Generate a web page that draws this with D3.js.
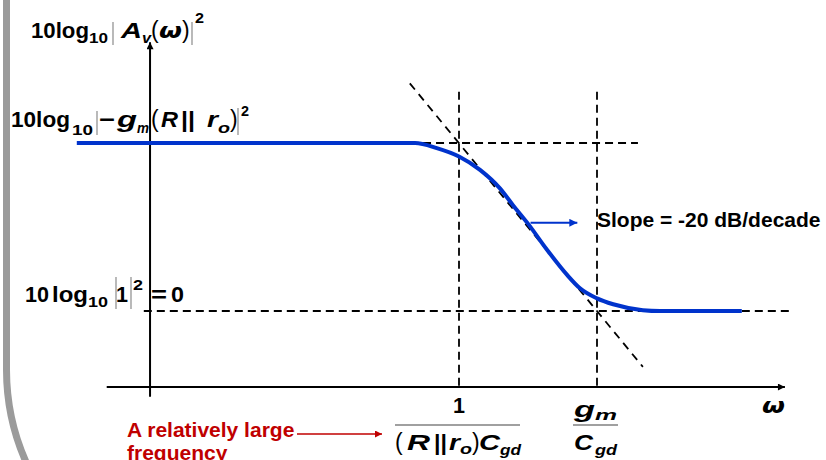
<!DOCTYPE html>
<html>
<head>
<meta charset="utf-8">
<script src="https://cdn.jsdelivr.net/npm/d3@7"></script>
<style>
  html, body { margin: 0; padding: 0; background: #fff; }
  svg { display: block; font-family: "Liberation Sans", Arial, sans-serif; }
</style>
</head>
<body>
<div id="chart"></div>
<script>
// gain response: omega normalised to the pole 1/((R||ro)Cgd), gain in dB
const curveOmega = [0.0017, 0.48, 0.69, 1, 1.42, 1.98, 2.46, 3.16, 4.34, 6.07, 7.53, 10, 13.1, 21.5, 28.6, 112];
const curveDb    = [20, 20, 19.4, 18.4, 16.8, 14.6, 12.6, 10.4, 7.3, 4.3, 2.7, 1.5, 0.8, 0.1, 0, 0];

// -20 dB/decade asymptote (dashed diagonal)
const asymOmega = [0.44, 21.5];
const asymDb    = [27.1, -6.65];

// break frequencies (pole, zero) and the two gain levels
const breakOmega = [1, 10];
const levelDb    = [20, 0];

// axis extents
const axisOmega = [0.0028, 230];   // x axis from .. to (arrow)
const axisDb    = [-10.2, 32];     // y axis from .. to (arrow)
const yAxisAt   = 0.00577;         // omega where the y axis stands
const xAxisAt   = -9.05;           // dB where the x axis lies

// dashed guide extents
const guideTopDb = 26.1;
const levelFrom  = [yAxisAt, 0.0052];
const levelTo    = [19.8, 263];

// slope annotation
const slopeArrow = { omega: [3.3, 7.2], db: 10.5 };
const slopeText  = "Slope = -20 dB/decade";
const noteLines  = ["A relatively large", "frequency"];

const W = 826, H = 460;
const blue = "#0033cc", red = "#c00000";

const svg = d3.select("#chart").append("svg")
    .attr("width", W)
    .attr("height", H);

svg.append("rect").attr("width", W).attr("height", H).attr("fill", "#fff");

// scales: one decade of omega = 138px, 20 dB = 168px
const x = d3.scaleLog().domain([1, 10]).range([459, 597]);
const y = d3.scaleLinear().domain([0, 20]).range([311, 143]);

// arrow markers
const defs = svg.append("defs");
function marker(id, color, w, h) {
    defs.append("marker")
        .attr("id", id)
        .attr("viewBox", "0 -5 10 10")
        .attr("refX", 10).attr("refY", 0)
        .attr("markerUnits", "userSpaceOnUse")
        .attr("markerWidth", w).attr("markerHeight", h)
        .attr("orient", "auto")
        .append("path")
        .attr("d", "M0,-5L10,0L0,5Z")
        .attr("fill", color);
}
marker("arrBlack", "#000", 9, 7);
marker("arrBlue", blue, 10, 8);
marker("arrRed", red, 9, 7);

// slide frame (grey rounded edge on the left)
svg.append("path")
    .attr("d", "M6.5,-5 V370 A228,228 0 0 0 35,480")
    .attr("fill", "none")
    .attr("stroke", "#9b9b9b")
    .attr("stroke-width", 7);

// dashed guides
svg.selectAll(".vguide")
    .data(breakOmega)
    .enter().append("line")
    .attr("class", "vguide")
    .attr("x1", d => x(d)).attr("x2", d => x(d))
    .attr("y1", y(guideTopDb)).attr("y2", y(xAxisAt))
    .attr("stroke", "#000")
    .attr("stroke-width", 1.8)
    .attr("stroke-dasharray", "8,5");

svg.selectAll(".hguide")
    .data(levelDb)
    .enter().append("line")
    .attr("class", "hguide")
    .attr("x1", (d, i) => x(levelFrom[i])).attr("x2", (d, i) => x(levelTo[i]))
    .attr("y1", d => y(d)).attr("y2", d => y(d))
    .attr("stroke", "#000")
    .attr("stroke-width", 1.8)
    .attr("stroke-dasharray", "8,5");

svg.append("line")
    .attr("x1", x(asymOmega[0])).attr("y1", y(asymDb[0]))
    .attr("x2", x(asymOmega[1])).attr("y2", y(asymDb[1]))
    .attr("stroke", "#000")
    .attr("stroke-width", 1.8)
    .attr("stroke-dasharray", "8,6");

// axes
svg.append("line")
    .attr("x1", x(axisOmega[0])).attr("x2", x(axisOmega[1]))
    .attr("y1", y(xAxisAt)).attr("y2", y(xAxisAt))
    .attr("stroke", "#000").attr("stroke-width", 2)
    .attr("marker-end", "url(#arrBlack)");

svg.append("line")
    .attr("x1", x(yAxisAt)).attr("x2", x(yAxisAt))
    .attr("y1", y(axisDb[0])).attr("y2", y(axisDb[1]))
    .attr("stroke", "#000").attr("stroke-width", 2)
    .attr("marker-end", "url(#arrBlack)");

// response curve
const curve = curveOmega.map((w, i) => [w, curveDb[i]]);
svg.append("path")
    .datum(curve)
    .attr("d", d3.line().x(d => x(d[0])).y(d => y(d[1])).curve(d3.curveMonotoneX))
    .attr("fill", "none")
    .attr("stroke", blue)
    .attr("stroke-width", 4);

// slope annotation
svg.append("line")
    .attr("x1", x(slopeArrow.omega[0])).attr("x2", x(slopeArrow.omega[1]))
    .attr("y1", y(slopeArrow.db)).attr("y2", y(slopeArrow.db))
    .attr("stroke", blue).attr("stroke-width", 2)
    .attr("marker-end", "url(#arrBlue)");

svg.append("text")
    .attr("x", x(10)).attr("y", y(10.05))
    .attr("font-size", 21).attr("font-weight", "bold")
    .text(slopeText);

// equation pieces: [text, x, baseline, size, kind, width]
// kind: b = bold, i = bold italic, n = normal, w = omega
const serifOmega = "'DejaVu Sans', sans-serif";
function eq(pieces) {
    pieces.forEach(p => {
        const [t, px, py, size, kind, w] = p;
        const el = svg.append("text")
            .attr("x", px).attr("y", py)
            .attr("font-size", size)
            .attr("font-weight", kind === "n" ? "normal" : "bold")
            .attr("font-style", kind === "i" || kind === "w" ? "italic" : "normal")
            .attr("fill", "#000")
            .text(t);
        if (kind === "w") el.attr("font-family", serifOmega);
        if (w) el.attr("textLength", w).attr("lengthAdjust", "spacingAndGlyphs");
    });
}
function bar(px, y1, y2) {
    svg.append("line")
        .attr("x1", px).attr("x2", px).attr("y1", y1).attr("y2", y2)
        .attr("stroke", "#808080").attr("stroke-width", 1.1);
}
function hbar(x1, x2, py) {
    svg.append("line")
        .attr("x1", x1).attr("x2", x2).attr("y1", py).attr("y2", py)
        .attr("stroke", "#808080").attr("stroke-width", 1.3);
}

// y axis title: 10log10|Av(w)|^2
eq([
    ["10log", 31, 38, 22, "b", 58],
    ["10", 89, 43, 15, "b", 19],
    ["A", 121, 38, 22, "i", 21],
    ["v", 142, 43, 15, "i", 9],
    ["(", 151, 38, 23, "n"],
    ["\u03c9", 159, 38, 21, "w", 23],
    [")", 182, 38, 23, "n"],
    ["2", 195, 23, 15, "b", 9]
]);
bar(113, 22, 45);
bar(192, 22, 45);

// high level: 10log10|-gm(R||ro)|^2
eq([
    ["10log", 11, 127, 22, "b", 59],
    ["10", 72, 135, 15, "b", 21],
    ["\u2212", 99, 127, 22, "b", 16],
    ["g", 117, 127, 22, "i", 20],
    ["m", 137, 133, 15, "i", 12],
    ["(", 151, 127, 23, "n"],
    ["R", 161, 127, 22, "i", 17],
    ["||", 181, 127, 22, "b", 14],
    ["r", 207, 127, 22, "i", 11],
    ["o", 218, 133, 15, "i", 12],
    [")", 230, 127, 23, "n"],
    ["2", 241, 116, 15, "b", 8]
]);
bar(97, 111, 135);
bar(238, 108, 135);

// low level: 10log10|1|^2 = 0
eq([
    ["10", 25, 302, 22, "b", 24],
    ["log", 52, 302, 22, "b", 36],
    ["10", 88, 307, 15, "b", 20],
    ["1", 116, 302, 22, "b", 12],
    ["2", 133, 290, 15, "b", 10],
    ["=", 151, 302, 22, "b", 16],
    ["0", 171, 302, 22, "b", 13]
]);
bar(116, 277, 309);
bar(131, 277, 309);

// x tick labels: 1/((R||ro)Cgd) and gm/Cgd
eq([
    ["1", x(1) - 6, 413, 22, "b", 12],
    ["(", 395, 450, 23, "n"],
    ["R", 407, 450, 22, "i", 23],
    ["||", 434, 450, 22, "b", 13],
    ["r", 449, 450, 22, "i", 11],
    ["o", 460, 454, 15, "i", 12],
    [")", 472, 450, 23, "n"],
    ["C", 479, 450, 22, "i", 21],
    ["gd", 500, 455, 15, "i", 21],
    ["g", 574, 417, 22, "i", 21],
    ["m", 595, 420, 15, "i", 22],
    ["C", 574, 450, 22, "i", 19],
    ["gd", 595, 455, 15, "i", 22],
    ["\u03c9", 762, 413, 21, "w", 23]
]);
hbar(395, 520, 425);
hbar(573, 618, 425);

// red note
svg.selectAll(".note")
    .data(noteLines)
    .enter().append("text")
    .attr("class", "note")
    .attr("x", 127).attr("y", (d, i) => 437 + i * 23)
    .attr("font-size", 21).attr("font-weight", "bold")
    .attr("fill", red)
    .text(d => d);
svg.append("line")
    .attr("x1", 297).attr("x2", 382).attr("y1", 434).attr("y2", 434)
    .attr("stroke", red).attr("stroke-width", 1.5)
    .attr("marker-end", "url(#arrRed)");
</script>
</body>
</html>
